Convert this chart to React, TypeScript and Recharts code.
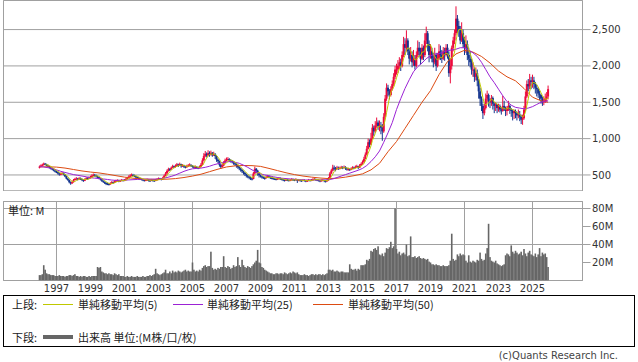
import React from 'react';
import { ComposedChart, Bar, Line, XAxis, YAxis, CartesianGrid, ReferenceLine, ReferenceArea } from 'recharts';

// monthly candles, Jan 1996 .. Dec 2025
const START_YEAR = 1996;
const FIRST_OPEN = 600;

const closes = [
  615, 630, 640, 655, 645, 630, 620, 600, 590, 575, 560, 545, // 1996
  540, 520, 505, 515, 525, 510, 480, 450, 430, 400, 385, 400, // 1997
  430, 445, 450, 440, 455, 445, 430, 420, 440, 455, 450, 465, // 1998
  470, 490, 500, 495, 480, 470, 455, 440, 420, 405, 390, 380, // 1999
  375, 370, 385, 400, 395, 410, 420, 425, 415, 420, 430, 425, // 2000
  430, 445, 460, 475, 490, 500, 495, 485, 470, 460, 455, 445, // 2001
  440, 430, 425, 430, 435, 425, 420, 430, 425, 420, 430, 440, // 2002
  450, 445, 440, 460, 490, 520, 555, 580, 575, 600, 620, 610, // 2003
  625, 645, 630, 650, 620, 635, 615, 605, 620, 630, 640, 625, // 2004
  615, 605, 610, 600, 595, 610, 640, 700, 760, 790, 770, 800, // 2005
  780, 805, 770, 790, 760, 710, 690, 640, 610, 630, 670, 700, // 2006
  715, 720, 700, 690, 680, 660, 650, 630, 610, 590, 570, 550, // 2007
  530, 510, 490, 475, 460, 450, 445, 520, 585, 560, 520, 495, // 2008
  480, 470, 460, 455, 470, 480, 470, 460, 455, 450, 445, 440, // 2009
  450, 455, 445, 440, 430, 425, 435, 430, 425, 430, 440, 435, // 2010
  430, 440, 420, 430, 425, 420, 430, 425, 415, 420, 430, 425, // 2011
  430, 440, 445, 435, 430, 425, 420, 425, 430, 420, 415, 425, // 2012
  460, 520, 560, 600, 590, 580, 600, 590, 595, 605, 600, 610, // 2013
  590, 575, 580, 570, 585, 600, 595, 610, 620, 600, 630, 650, // 2014
  680, 720, 780, 860, 950, 920, 1000, 1150, 1100, 1180, 1220, 1170, // 2015
  1180, 1150, 1100, 1300, 1550, 1700, 1650, 1600, 1680, 1750, 1850, 1950, // 2016
  1950, 2000, 2050, 2000, 2150, 2300, 2250, 2350, 2200, 2100, 2150, 2050, // 2017
  2100, 2000, 2150, 2250, 2200, 2100, 2250, 2150, 2350, 2450, 2300, 2150, // 2018
  2200, 2100, 2050, 2150, 2000, 2100, 2200, 2150, 2100, 2200, 2150, 2250, // 2019
  2150, 1900, 2000, 2250, 2350, 2450, 2650, 2550, 2500, 2350, 2450, 2300, // 2020
  2250, 2300, 2150, 2100, 2050, 1950, 1950, 1850, 1900, 1800, 1650, 1550, // 2021
  1450, 1350, 1420, 1550, 1600, 1520, 1500, 1560, 1480, 1450, 1470, 1420, // 2022
  1450, 1400, 1380, 1450, 1420, 1380, 1420, 1450, 1400, 1380, 1350, 1380, // 2023
  1350, 1320, 1330, 1300, 1260, 1280, 1400, 1580, 1750, 1720, 1800, 1780, // 2024
  1800, 1750, 1700, 1680, 1620, 1600, 1550, 1500, 1520, 1550, 1580, 1680, // 2025
];

const highs = [
  630, 645, 655, 670, 665, 655, 640, 625, 610, 600, 585, 570,
  560, 550, 530, 530, 540, 535, 515, 490, 460, 440, 410, 415,
  445, 460, 470, 460, 470, 465, 450, 440, 455, 470, 470, 480,
  490, 510, 520, 515, 505, 490, 475, 460, 445, 425, 410, 400,
  395, 390, 400, 415, 410, 425, 435, 440, 435, 435, 445, 440,
  445, 460, 475, 495, 510, 520, 515, 505, 490, 475, 470, 460,
  455, 445, 440, 445, 450, 445, 435, 445, 440, 435, 445, 455,
  465, 460, 455, 475, 505, 540, 575, 600, 595, 615, 640, 630,
  645, 665, 655, 670, 655, 650, 640, 625, 640, 650, 660, 645,
  635, 625, 630, 620, 615, 630, 665, 730, 800, 830, 810, 840,
  825, 835, 815, 820, 800, 770, 725, 700, 650, 655, 690, 725,
  740, 745, 730, 715, 705, 690, 675, 660, 640, 620, 600, 580,
  560, 540, 520, 500, 485, 475, 465, 540, 615, 595, 570, 530,
  505, 490, 480, 475, 490, 500, 490, 480, 470, 465, 460, 455,
  465, 470, 465, 455, 445, 440, 450, 445, 440, 445, 455, 450,
  445, 455, 445, 445, 440, 435, 445, 440, 430, 435, 445, 440,
  445, 455, 460, 450, 445, 440, 435, 440, 445, 435, 430, 440,
  470, 540, 580, 640, 630, 610, 625, 615, 615, 625, 620, 630,
  620, 600, 600, 590, 605, 620, 615, 630, 640, 625, 650, 670,
  700, 750, 810, 900, 1000, 990, 1080, 1200, 1180, 1240, 1290, 1250,
  1250, 1230, 1200, 1350, 1600, 1760, 1740, 1680, 1720, 1800, 1900, 2000,
  2030, 2080, 2120, 2100, 2200, 2400, 2380, 2490, 2380, 2250, 2260, 2200,
  2220, 2150, 2200, 2350, 2330, 2250, 2300, 2280, 2450, 2540, 2480, 2350,
  2300, 2250, 2180, 2250, 2180, 2180, 2300, 2280, 2220, 2260, 2250, 2300,
  2300, 2200, 2100, 2280, 2400, 2500, 2820, 2700, 2620, 2550, 2600, 2500,
  2400, 2420, 2350, 2250, 2200, 2100, 2050, 1980, 1980, 1950, 1820, 1700,
  1580, 1480, 1480, 1620, 1660, 1620, 1550, 1600, 1580, 1500, 1500, 1480,
  1480, 1470, 1430, 1590, 1520, 1440, 1450, 1520, 1470, 1420, 1400, 1400,
  1400, 1370, 1400, 1380, 1330, 1330, 1450, 1650, 1800, 1820, 1890, 1850,
  1880, 1850, 1780, 1740, 1700, 1660, 1610, 1580, 1580, 1620, 1640, 1730,
];

const lows = [
  590, 605, 620, 630, 635, 620, 610, 590, 575, 565, 550, 535,
  525, 505, 490, 495, 505, 495, 470, 440, 420, 385, 365, 375,
  395, 425, 435, 425, 435, 430, 415, 405, 415, 435, 435, 445,
  450, 465, 480, 475, 465, 455, 440, 425, 405, 390, 375, 360,
  360, 355, 365, 380, 380, 390, 405, 410, 400, 405, 415, 410,
  415, 425, 440, 455, 470, 480, 480, 470, 455, 445, 440, 430,
  425, 415, 410, 415, 420, 410, 405, 415, 410, 405, 415, 425,
  435, 430, 425, 435, 455, 485, 515, 545, 555, 570, 595, 595,
  600, 620, 610, 625, 600, 610, 595, 590, 600, 610, 620, 610,
  600, 590, 590, 585, 580, 590, 605, 635, 690, 745, 740, 755,
  750, 765, 750, 760, 720, 680, 660, 615, 585, 600, 620, 660,
  685, 695, 680, 670, 660, 640, 625, 600, 585, 565, 545, 525,
  505, 485, 465, 455, 440, 430, 425, 440, 510, 530, 490, 465,
  465, 450, 445, 435, 450, 460, 455, 445, 440, 435, 430, 425,
  430, 440, 430, 425, 415, 410, 420, 415, 410, 415, 425, 420,
  415, 425, 390, 415, 410, 405, 415, 410, 400, 405, 415, 410,
  415, 425, 430, 420, 415, 410, 400, 410, 415, 400, 395, 410,
  420, 455, 515, 550, 560, 550, 570, 570, 575, 585, 580, 590,
  570, 560, 560, 555, 565, 580, 580, 590, 600, 580, 595, 625,
  640, 670, 715, 770, 850, 880, 910, 990, 1040, 1080, 1150, 1120,
  1100, 1060, 970, 1080, 1290, 1520, 1580, 1540, 1580, 1660, 1720, 1820,
  1880, 1900, 1960, 1930, 1980, 2120, 2150, 2200, 2150, 2020, 2060, 1980,
  2000, 1950, 1980, 2120, 2130, 2020, 2080, 2080, 2120, 2300, 2200, 2050,
  2100, 2050, 1980, 2020, 1930, 1980, 2080, 2080, 2040, 2080, 2070, 2130,
  2100, 1850, 1760, 1950, 2200, 2300, 2420, 2450, 2400, 2300, 2330, 2250,
  2150, 2180, 2080, 2000, 1980, 1880, 1850, 1780, 1800, 1720, 1550, 1450,
  1380, 1270, 1320, 1400, 1500, 1440, 1420, 1450, 1400, 1350, 1380, 1350,
  1370, 1360, 1330, 1370, 1380, 1310, 1320, 1380, 1340, 1300, 1250, 1270,
  1280, 1250, 1280, 1240, 1200, 1190, 1260, 1380, 1560, 1650, 1680, 1680,
  1700, 1680, 1620, 1580, 1560, 1530, 1480, 1450, 1460, 1490, 1510, 1540,
];

// volume, millions
const volumes = [
  6, 6, 7, 17, 12, 8, 7, 7, 6, 6, 6, 5,
  5, 5, 6, 5, 5, 5, 4, 5, 5, 6, 6, 5,
  6, 7, 5, 5, 4, 5, 4, 5, 5, 4, 4, 5,
  4, 5, 5, 5, 5, 15, 14, 15, 10, 9, 8, 8,
  7, 8, 7, 7, 6, 8, 7, 6, 7, 5, 5, 5,
  4, 4, 5, 4, 4, 5, 4, 4, 4, 5, 4, 4,
  4, 5, 4, 4, 5, 5, 6, 5, 6, 7, 13, 8,
  7, 6, 7, 8, 9, 12, 8, 8, 10, 8, 11, 9,
  10, 9, 11, 10, 9, 10, 11, 12, 10, 11, 10, 10,
  20, 12, 10, 11, 10, 12, 11, 14, 16, 17, 15, 16,
  16, 32, 14, 12, 13, 12, 14, 13, 15, 15, 27, 15,
  14, 16, 15, 13, 14, 17, 15, 16, 26, 17, 15, 23,
  17, 15, 14, 16, 15, 14, 16, 18, 20, 22, 34, 20,
  19, 15, 14, 12, 11, 10, 9, 8, 8, 7, 7, 8,
  8, 7, 8, 8, 7, 9, 8, 7, 8, 9, 8, 10,
  9, 8, 9, 7, 6, 6, 6, 7, 6, 6, 5, 6,
  7, 7, 6, 7, 6, 7, 7, 6, 7, 6, 7, 8,
  12, 12, 11, 12, 10, 10, 11, 10, 9, 10, 10, 9,
  9, 9, 9, 18, 13, 12, 12, 13, 11, 13, 12, 17,
  17, 17, 18, 23, 22, 24, 33, 32, 35, 36, 34, 38,
  29, 28, 30, 27, 31, 36, 35, 37, 43, 36, 38, 80,
  35, 30, 32, 28, 30, 31, 29, 40, 27, 28, 49, 26,
  26, 27, 25, 26, 27, 25, 24, 25, 24, 23, 24, 21,
  20, 18, 18, 17, 18, 17, 17, 16, 16, 17, 16, 16,
  16, 17, 22, 52, 24, 22, 23, 29, 27, 30, 28, 29,
  28, 22, 20, 28, 21, 20, 22, 21, 20, 23, 22, 31,
  24, 22, 23, 30, 36, 63, 26, 22, 21, 20, 22, 19,
  18, 17, 16, 17, 18, 28, 30, 29, 27, 39, 32, 30,
  33, 31, 29, 30, 32, 28, 35, 30, 27, 31, 33, 29,
  28, 27, 30, 26, 29, 36, 27, 31, 29, 30, 26, 15,
];

// moving averages: [month index, value]
const ma25Points = [
  [0, 615], [3, 610], [6, 600], [9, 590], [12, 570], [15, 550], [18, 535], [21, 520],
  [24, 505], [27, 495], [30, 485], [33, 475], [36, 462], [39, 456], [42, 450], [45, 445],
  [48, 438], [51, 430], [54, 425], [57, 425], [60, 428], [63, 432], [66, 435], [69, 438],
  [72, 440], [75, 442], [78, 442], [81, 442], [84, 444], [87, 452], [90, 465], [93, 480],
  [96, 500], [99, 525], [102, 550], [105, 570], [108, 585], [111, 590], [114, 595], [117, 605],
  [120, 620], [123, 640], [126, 655], [129, 670], [132, 680], [135, 685], [138, 675], [141, 660],
  [144, 635], [147, 605], [150, 570], [153, 540], [156, 515], [159, 500], [162, 490], [165, 475],
  [168, 465], [171, 455], [174, 450], [177, 445], [180, 440], [183, 435], [186, 432], [189, 430],
  [192, 430], [195, 430], [198, 430], [201, 432], [204, 435], [207, 445], [210, 465], [213, 485],
  [216, 505], [219, 525], [222, 545], [225, 565], [228, 590], [231, 630], [234, 685], [237, 750],
  [240, 830], [243, 950], [246, 1080], [249, 1220], [252, 1400], [255, 1550], [258, 1690], [261, 1810],
  [264, 1920], [267, 1990], [270, 2040], [273, 2100], [276, 2140], [279, 2160], [282, 2170], [285, 2190],
  [288, 2210], [291, 2220], [294, 2230], [297, 2250], [300, 2250], [303, 2220], [306, 2180], [309, 2130],
  [312, 2050], [315, 1950], [318, 1850], [321, 1770], [324, 1680], [327, 1590], [330, 1510], [333, 1460],
  [336, 1430], [339, 1420], [342, 1410], [345, 1420], [348, 1440], [351, 1470], [354, 1500], [357, 1515],
  [359, 1520],
];

const ma50Points = [
  [0, 612], [6, 612], [12, 608], [18, 595], [24, 575], [30, 555], [36, 540], [42, 528],
  [48, 510], [54, 490], [60, 470], [66, 455], [72, 445], [78, 440], [84, 440], [90, 442],
  [96, 450], [102, 465], [108, 485], [114, 510], [120, 545], [126, 580], [132, 610], [138, 625],
  [144, 630], [150, 628], [156, 618], [162, 590], [168, 560], [174, 530], [180, 505], [186, 485],
  [192, 470], [198, 458], [204, 450], [210, 455], [216, 470], [222, 490], [228, 515], [234, 570],
  [240, 660], [246, 820], [252, 960], [258, 1140], [264, 1320], [270, 1500], [276, 1660], [282, 1880],
  [288, 2060], [294, 2165], [300, 2215], [306, 2190], [312, 2130], [318, 2040], [324, 1930], [330, 1850],
  [336, 1795], [342, 1690], [348, 1570], [354, 1520], [359, 1500],
];

const yearLabels = [1997, 1999, 2001, 2003, 2005, 2007, 2009, 2011, 2013, 2015, 2017, 2019, 2021, 2023, 2025];
const priceTicks = [500, 1000, 1500, 2000, 2500];
const volumeTicks = [20, 40, 60, 80];

const X_DOMAIN: [number, number] = [-25.41, 383.29];
const PRICE_DOMAIN: [number, number] = [279.31, 2900];
const VOL_DOMAIN: [number, number] = [0, 87.78];

const RED = '#ec0a3c';
const BLUE = '#15358f';
const GRID = '#a0a0a0';
const FONT = '"DejaVu Sans", "Noto Sans CJK JP", sans-serif';
const JP = '"Noto Sans CJK JP", "DejaVu Sans", sans-serif';

const monthTicks = yearLabels.map((y) => (y - START_YEAR) * 12);

const rows = closes.map((c, i) => {
  const open = i === 0 ? FIRST_OPEN : closes[i - 1];
  const ma5 = i >= 4 ? (closes[i] + closes[i - 1] + closes[i - 2] + closes[i - 3] + closes[i - 4]) / 5 : null;
  return { i, open, close: c, high: highs[i], low: lows[i], range: [lows[i], highs[i]], vol: volumes[i], ma5 };
});

const ma25Data = ma25Points.map(([i, v]) => ({ i, v }));
const ma50Data = ma50Points.map(([i, v]) => ({ i, v }));

const Candle = (props: any) => {
  const { x, y, width, height, payload } = props;
  if (!payload || x == null || y == null) return null;
  const top = Math.min(y, y + height);
  const h = Math.abs(height);
  const { open, close, high, low } = payload;
  const span = high - low || 1;
  const toY = (v: number) => top + ((high - v) / span) * h;
  const cx = x + width / 2;
  const color = close >= open ? RED : BLUE;
  const b1 = toY(Math.max(open, close));
  const b2 = toY(Math.min(open, close));
  return (
    <g>
      <line x1={cx} x2={cx} y1={top} y2={top + h} stroke={color} strokeWidth={1} />
      <rect x={cx - 1} y={b1} width={2} height={Math.max(b2 - b1, 1)} fill={color} />
    </g>
  );
};

const VolumeBar = (props: any) => {
  const { x, y, width, height } = props;
  if (x == null || y == null) return null;
  const cx = x + width / 2;
  return <rect x={cx - 0.8} y={y} width={1.6} height={Math.max(height, 0)} fill="#666666" />;
};

const fmtPrice = (v: number) => v.toLocaleString('en-US');
const fmtVol = (v: number) => `${v}M`;
const fmtYear = (m: number) => String(START_YEAR + m / 12);

const legendRow = (y: number, items: { color: string; label: string; x: number; tx: number; thick?: boolean }[]) =>
  items.map((it) => (
    <React.Fragment key={it.label}>
      <div style={{ position: 'absolute', left: it.x, top: y - (it.thick ? 2 : 0.5), width: 30, height: it.thick ? 4 : 1, background: it.color }} />
      <div style={{ position: 'absolute', left: it.tx, top: y - 8, lineHeight: '16px', fontSize: 11, whiteSpace: 'nowrap' }}>{it.label}</div>
    </React.Fragment>
  ));

export default function App() {
  return (
    <div style={{ position: 'absolute', left: 0, top: 0, width: 638, height: 362, background: '#fff', fontFamily: FONT, color: '#222', overflow: 'hidden' }}>
      <div style={{ position: 'absolute', left: 0, top: 0 }}>
        <ComposedChart width={638} height={191} data={rows} margin={{ top: 0.5, right: 0, bottom: 0, left: 3.5 }}>
          <CartesianGrid stroke={GRID} strokeWidth={1} />
          <XAxis dataKey="i" type="number" domain={X_DOMAIN} allowDataOverflow ticks={monthTicks} height={0} tick={false} axisLine={false} tickLine={false} />
          <YAxis
            orientation="right"
            width={55.5}
            type="number"
            domain={PRICE_DOMAIN}
            allowDataOverflow
            ticks={priceTicks}
            tickFormatter={fmtPrice}
            axisLine={false}
            tickLine={{ stroke: GRID }}
            tickSize={8}
            tickMargin={1.5}
            tick={{ fill: '#333', fontSize: 10 }}
          />
          <ReferenceLine x={X_DOMAIN[0]} stroke={GRID} ifOverflow="visible" />
          <ReferenceLine x={X_DOMAIN[1]} stroke={GRID} ifOverflow="visible" />
          <ReferenceLine y={PRICE_DOMAIN[0]} stroke={GRID} ifOverflow="visible" />
          <Bar dataKey="range" barSize={1.4} shape={<Candle />} isAnimationActive={false} />
          <Line data={ma50Data} dataKey="v" stroke="#dc4b12" strokeWidth={1} dot={false} isAnimationActive={false} />
          <Line data={ma25Data} dataKey="v" stroke="#9b22d4" strokeWidth={1} dot={false} isAnimationActive={false} />
          <Line dataKey="ma5" stroke="#bfc800" strokeWidth={1} dot={false} isAnimationActive={false} />
        </ComposedChart>
      </div>

      <div style={{ position: 'absolute', left: 0, top: 201 }}>
        <ComposedChart width={638} height={96} data={rows} margin={{ top: 0.5, right: 0, bottom: 0, left: 3.5 }}>
          <CartesianGrid stroke={GRID} strokeWidth={1} />
          <XAxis
            dataKey="i"
            type="number"
            domain={X_DOMAIN}
            allowDataOverflow
            ticks={monthTicks}
            tickFormatter={fmtYear}
            height={16.5}
            axisLine={false}
            tickLine={false}
            tickSize={0}
            tickMargin={4}
            tick={{ fill: '#333', fontSize: 10 }}
          />
          <YAxis
            orientation="right"
            width={55.5}
            type="number"
            domain={VOL_DOMAIN}
            allowDataOverflow
            ticks={volumeTicks}
            tickFormatter={fmtVol}
            axisLine={false}
            tickLine={{ stroke: GRID }}
            tickSize={8}
            tickMargin={1.5}
            tick={{ fill: '#333', fontSize: 10 }}
          />
          <Bar dataKey="vol" barSize={1.4} shape={<VolumeBar />} isAnimationActive={false} />
          <ReferenceArea x1={X_DOMAIN[0]} x2={X_DOMAIN[1]} y1={VOL_DOMAIN[0]} y2={VOL_DOMAIN[1]} fill="none" fillOpacity={0} stroke={GRID} ifOverflow="visible" />
        </ComposedChart>
      </div>

      <div style={{ position: 'absolute', left: 8, top: 202, fontSize: 11, fontFamily: JP, lineHeight: '16px', color: '#222' }}>単位: M</div>

      <div style={{ position: 'absolute', left: 3, top: 295, width: 632, height: 52, border: '1px solid #000', boxSizing: 'border-box' }} />
      <div style={{ fontFamily: JP }}>
        <div style={{ position: 'absolute', left: 12, top: 296, lineHeight: '16px', fontSize: 11 }}>上段:</div>
        {legendRow(304, [
          { color: '#bfc800', label: '単純移動平均(5)', x: 43, tx: 78 },
          { color: '#9b22d4', label: '単純移動平均(25)', x: 173, tx: 207 },
          { color: '#dc4b12', label: '単純移動平均(50)', x: 313, tx: 348 },
        ])}
        <div style={{ position: 'absolute', left: 12, top: 329, lineHeight: '16px', fontSize: 11 }}>下段:</div>
        {legendRow(337, [{ color: '#666666', label: '出来高 単位:(M株/口/枚)', x: 43, tx: 78, thick: true }])}
      </div>

      <div style={{ position: 'absolute', right: 20, top: 349, fontSize: 10, lineHeight: '14px', color: '#444', whiteSpace: 'nowrap' }}>(c)Quants Research Inc.</div>
    </div>
  );
}
